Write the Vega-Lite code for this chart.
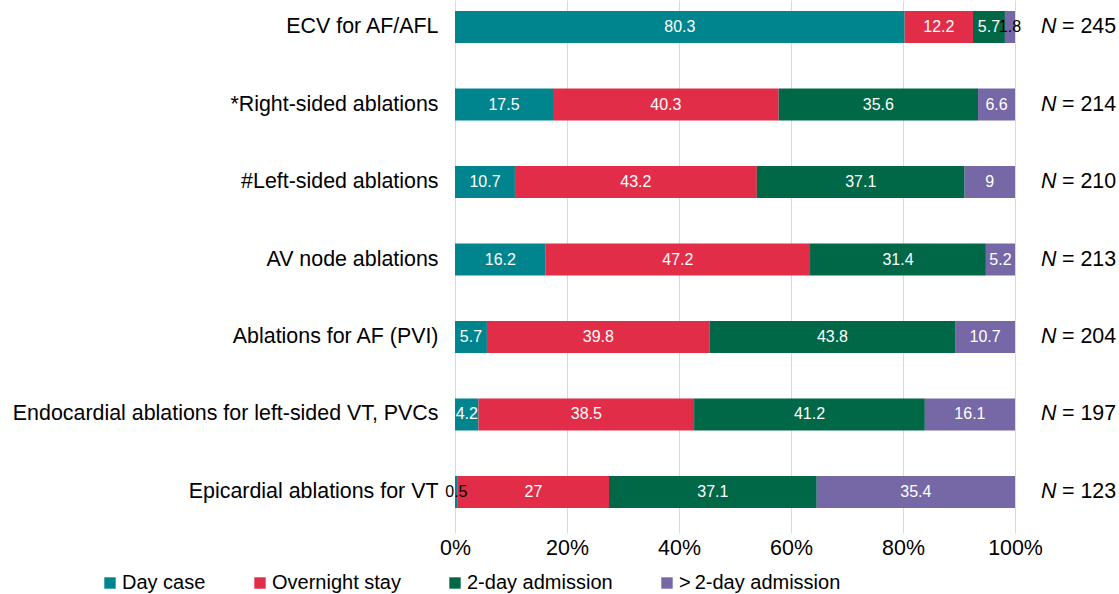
{
  "$schema": "https://vega.github.io/schema/vega-lite/v6.json",
  "autosize": "none",
  "width": 560,
  "height": 519,
  "padding": {"left": 455, "top": 0, "right": 104, "bottom": 75},
  "background": "white",
  "config": {
    "font": "Liberation Sans",
    "view": {"stroke": null}
  },
  "data": {
    "values": [
      {"procedure": "ECV for AF/AFL", "Day case": 80.3, "Overnight stay": 12.2, "2-day admission": 5.7, "> 2-day admission": 1.8, "n": 245},
      {"procedure": "*Right-sided ablations", "Day case": 17.5, "Overnight stay": 40.3, "2-day admission": 35.6, "> 2-day admission": 6.6, "n": 214},
      {"procedure": "#Left-sided ablations", "Day case": 10.7, "Overnight stay": 43.2, "2-day admission": 37.1, "> 2-day admission": 9, "n": 210},
      {"procedure": "AV node ablations", "Day case": 16.2, "Overnight stay": 47.2, "2-day admission": 31.4, "> 2-day admission": 5.2, "n": 213},
      {"procedure": "Ablations for AF (PVI)", "Day case": 5.7, "Overnight stay": 39.8, "2-day admission": 43.8, "> 2-day admission": 10.7, "n": 204},
      {"procedure": "Endocardial ablations for left-sided VT, PVCs", "Day case": 4.2, "Overnight stay": 38.5, "2-day admission": 41.2, "> 2-day admission": 16.1, "n": 197},
      {"procedure": "Epicardial ablations for VT", "Day case": 0.5, "Overnight stay": 27, "2-day admission": 37.1, "> 2-day admission": 35.4, "n": 123}
    ]
  },
  "encoding": {
    "y": {
      "field": "procedure",
      "type": "nominal",
      "sort": null,
      "title": null,
      "scale": {"paddingInner": 0.587, "paddingOuter": 0.142},
      "axis": {"domain": false, "ticks": false, "labelFontSize": 21.4, "labelColor": "#000000", "labelPadding": 17, "labelLimit": 600}
    }
  },
  "layer": [
    {
      "transform": [
        {"fold": ["Day case", "Overnight stay", "2-day admission", "> 2-day admission"], "as": ["stay", "pct"]},
        {"calculate": "indexof(['Day case','Overnight stay','2-day admission','> 2-day admission'], datum.stay)", "as": "ord"},
        {"stack": "pct", "groupby": ["procedure"], "sort": [{"field": "ord", "order": "ascending"}], "as": ["x0", "x1"]},
        {"calculate": "(datum.x0 + datum.x1) / 2", "as": "xm"}
      ],
      "layer": [
        {
          "mark": {"type": "bar"},
          "encoding": {
            "x": {
              "field": "x0", "type": "quantitative", "title": null,
              "scale": {"domain": [0, 100], "nice": false},
              "axis": {
                "values": [0, 20, 40, 60, 80, 100],
                "labelExpr": "datum.value + '%'",
                "labelFlush": false,
                "domain": false, "ticks": true, "tickSize": 14, "tickColor": "#d9d9d9",
                "grid": true, "gridColor": "#d9d9d9",
                "labelFontSize": 21.4, "labelColor": "#000000", "labelPadding": 4
              }
            },
            "x2": {"field": "x1"},
            "color": {
              "field": "stay", "type": "nominal",
              "scale": {
                "domain": ["Day case", "Overnight stay", "2-day admission", "> 2-day admission"],
                "range": ["#00858F", "#E22D48", "#006847", "#7668A6"]
              },
              "legend": {
                "title": null, "orient": "none", "direction": "horizontal",
                "legendX": -355, "legendY": 573,
                "symbolType": "square", "symbolSize": 130, "symbolStrokeWidth": 0,
                "labelFontSize": 20, "labelColor": "#000000", "columnPadding": 44, "labelOffset": 2,
                "labelLimit": 400,
                "labelExpr": "datum.label == '> 2-day admission' ? '>\u20092-day admission' : datum.label"
              }
            }
          }
        },
        {
          "mark": {"type": "text", "fontSize": 16, "align": "center", "baseline": "middle"},
          "encoding": {
            "x": {"field": "xm", "type": "quantitative"},
            "text": {"field": "pct", "type": "quantitative"},
            "color": {
              "condition": {"test": "datum.pct < 2", "value": "#000000"},
              "value": "#ffffff"
            }
          }
        }
      ]
    },
    {
      "mark": {"type": "text", "fontSize": 21.4, "fontStyle": "italic", "align": "left", "baseline": "middle", "dx": 26, "color": "#000000"},
      "encoding": {
        "x": {"datum": 100, "type": "quantitative"},
        "text": {"value": "N"}
      }
    },
    {
      "transform": [{"calculate": "'= ' + datum.n", "as": "nlab"}],
      "mark": {"type": "text", "fontSize": 21.4, "align": "left", "baseline": "middle", "dx": 47, "color": "#000000"},
      "encoding": {
        "x": {"datum": 100, "type": "quantitative"},
        "text": {"field": "nlab"}
      }
    }
  ]
}
